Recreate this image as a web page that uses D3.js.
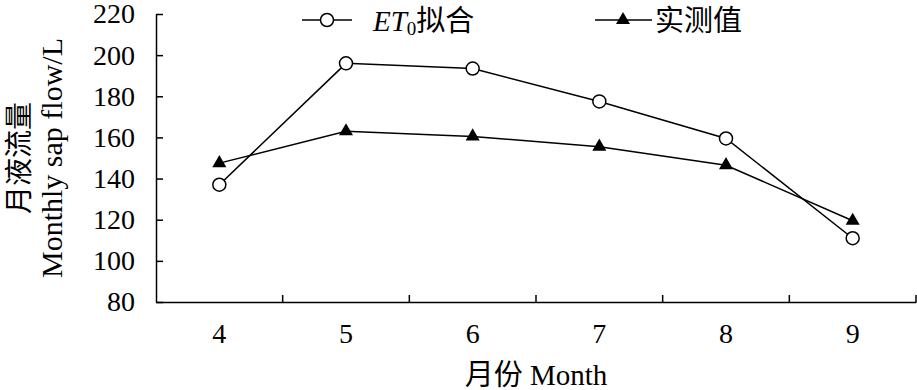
<!DOCTYPE html>
<html>
<head>
<meta charset="utf-8">
<script src="https://cdn.jsdelivr.net/npm/d3@7"></script>
<style>
  body { margin: 0; background: #fff; }
  svg text { font-family: "Liberation Serif", "Noto Sans CJK SC", serif; fill: #000; }
</style>
</head>
<body>
<div id="container"></div>
<script>
// size
let width = 917;
let height = 390;

// data
var months = ["4", "5", "6", "7", "8", "9"];
var et0Fit = [137, 196, 193.5, 177.5, 159.5, 111];
var measured = [147.5, 163, 160.5, 155.5, 146.5, 119.5];
var yTicks = [80, 100, 120, 140, 160, 180, 200, 220];

// plot frame (don't use "top" -> window.top)
var pLeft = 156, pRight = 916, pTop = 14, pBottom = 302;

var svg = d3.select("#container").append("svg")
  .attr("width", width)
  .attr("height", height);

var x = d3.scaleBand().domain(months).range([pLeft, pRight]).padding(0);
var y = d3.scaleLinear().domain([80, 220]).range([pBottom, pTop]);

// y axis
var yAxis = svg.append("g")
  .attr("transform", "translate(" + pLeft + ",0)")
  .call(d3.axisLeft(y).tickValues(yTicks).tickSizeInner(-7).tickSizeOuter(0).tickPadding(21));
yAxis.select(".domain").attr("stroke", "#000").attr("stroke-width", 1.5);
yAxis.selectAll(".tick line").attr("stroke", "#000").attr("stroke-width", 1.5);
yAxis.selectAll(".tick text").attr("font-size", 28).attr("font-family", null);

// x axis (labels at band centres, ticks at band edges)
var xAxis = svg.append("g")
  .attr("transform", "translate(0," + pBottom + ")")
  .call(d3.axisBottom(x).tickSize(0).tickPadding(21));
xAxis.select(".domain").attr("stroke", "#000").attr("stroke-width", 1.5);
xAxis.selectAll(".tick text").attr("font-size", 28).attr("font-family", null);

var edges = months.slice(1).map(function(m) { return x(m); }).concat([pRight]);
xAxis.selectAll(".edge").data(edges).enter().append("line")
  .attr("x1", function(d) { return d; })
  .attr("x2", function(d) { return d; })
  .attr("y1", 0)
  .attr("y2", -7)
  .attr("stroke", "#000")
  .attr("stroke-width", 1.5);

var cx = function(d, i) { return x(months[i]) + x.bandwidth() / 2; };

var line = d3.line()
  .x(function(d, i) { return cx(d, i); })
  .y(function(d) { return y(d); });

// 实测值
svg.append("path").datum(measured)
  .attr("d", line)
  .attr("fill", "none")
  .attr("stroke", "#000")
  .attr("stroke-width", 1.5);

// ET0
svg.append("path").datum(et0Fit)
  .attr("d", line)
  .attr("fill", "none")
  .attr("stroke", "#000")
  .attr("stroke-width", 1.5);

var tri = d3.symbol().type(d3.symbolTriangle).size(85);

svg.append("g").selectAll("path").data(measured).enter().append("path")
  .attr("d", tri)
  .attr("transform", function(d, i) { return "translate(" + cx(d, i) + "," + y(d) + ")"; })
  .attr("fill", "#000");

svg.append("g").selectAll("circle").data(et0Fit).enter().append("circle")
  .attr("cx", cx)
  .attr("cy", function(d) { return y(d); })
  .attr("r", 6.5)
  .attr("fill", "#fff")
  .attr("stroke", "#000")
  .attr("stroke-width", 1.5);

// legend
var ly = 20;
svg.append("line").attr("x1", 302).attr("x2", 352).attr("y1", ly).attr("y2", ly)
  .attr("stroke", "#000").attr("stroke-width", 1.5);
svg.append("circle").attr("cx", 327).attr("cy", ly).attr("r", 6.5)
  .attr("fill", "#fff").attr("stroke", "#000").attr("stroke-width", 1.5);
var t1 = svg.append("text").attr("x", 373).attr("y", 31).attr("font-size", 29);
t1.append("tspan").attr("font-style", "italic").text("ET");
t1.append("tspan").attr("font-size", 19).attr("dy", 4).text("0");
t1.append("tspan").attr("dy", -4).text("拟合");

svg.append("line").attr("x1", 595).attr("x2", 652).attr("y1", ly).attr("y2", ly)
  .attr("stroke", "#000").attr("stroke-width", 1.5);
svg.append("path").attr("d", tri).attr("transform", "translate(623," + ly + ")").attr("fill", "#000");
svg.append("text").attr("x", 655).attr("y", 31).attr("font-size", 29).text("实测值");

// axis titles
svg.append("text")
  .attr("transform", "translate(29," + (pTop + pBottom) / 2 + ") rotate(-90)")
  .attr("text-anchor", "middle")
  .attr("font-size", 28)
  .text("月液流量");
svg.append("text")
  .attr("transform", "translate(62," + (pTop + pBottom) / 2 + ") rotate(-90)")
  .attr("text-anchor", "middle")
  .attr("font-size", 30)
  .text("Monthly sap flow/L");
svg.append("text")
  .attr("x", (pLeft + pRight) / 2)
  .attr("y", 385)
  .attr("text-anchor", "middle")
  .attr("font-size", 29)
  .text("月份 Month");
</script>
</body>
</html>
